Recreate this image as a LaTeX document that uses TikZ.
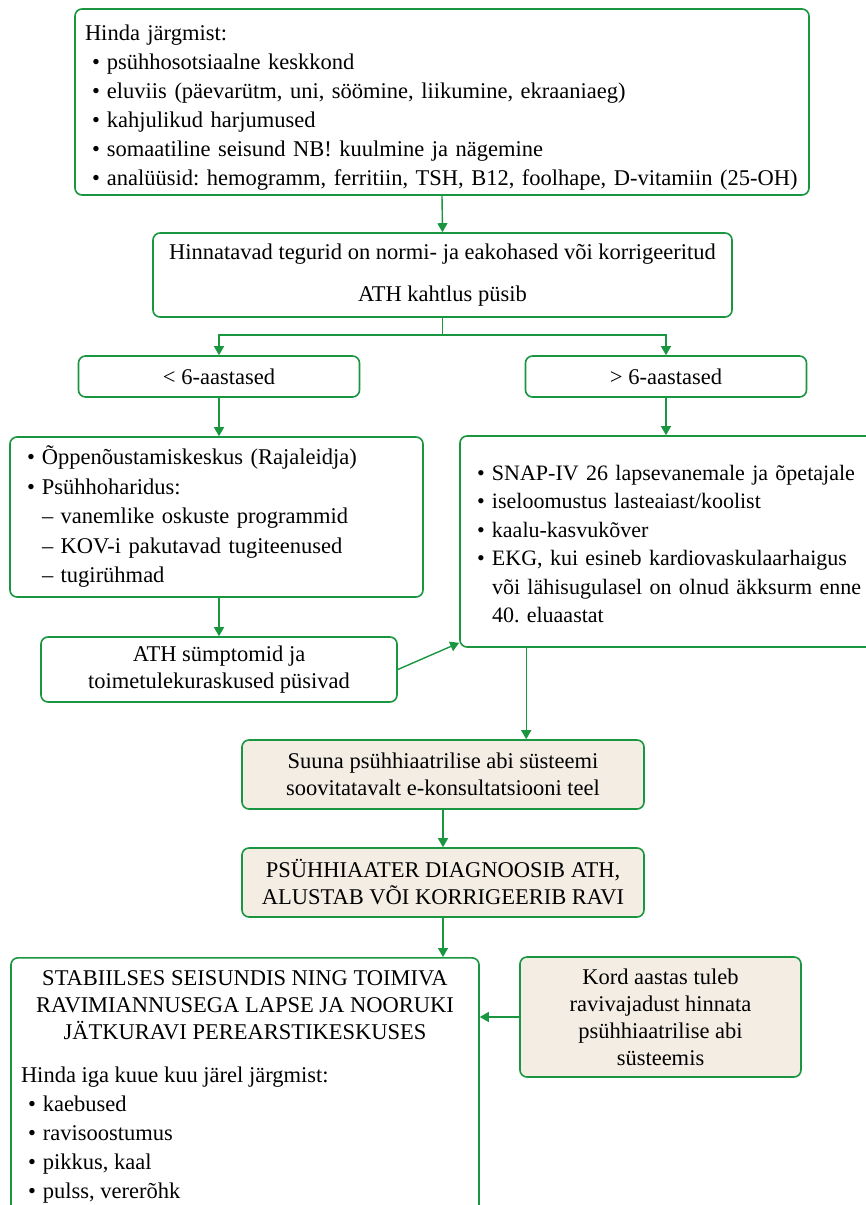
\documentclass[tikz,border=0pt]{standalone}
\usepackage{fontspec}
\setmainfont{Liberation Serif}
\usetikzlibrary{arrows.meta}
\definecolor{flowgreen}{RGB}{26,150,65}
\definecolor{flowtan}{RGB}{243,237,228}
\newcommand{\bulpt}{\makebox[22pt][c]{\textbullet}}
\newcommand{\rowleft}[1]{\makebox[448pt][l]{#1}}
\frenchspacing
\hyphenpenalty=10000
\begin{document}
\begin{tikzpicture}[x=1pt, y=-1pt,
    box/.style={draw=flowgreen, line width=1.6pt, rounded corners=7pt, fill=white,
        inner xsep=10pt, inner ysep=4pt, align=center,
        font=\fontsize{22.5}{27}\selectfont},
    tanbox/.style={box, fill=flowtan},
    listbox/.style={box, align=left, font=\fontsize{22.5}{29}\selectfont},
    flow/.style={draw=flowgreen, line width=1.4pt, -{Triangle[length=9pt, width=10pt]}}]
    \useasboundingbox (0,0) rectangle (866,1205);
    \clip (0,0) rectangle (866,1205);
    \node[listbox, text width=714pt, minimum height=186pt] (hinda) at (442,102) {
        \rule{0pt}{27pt}Hinda järgmist:\\
        \bulpt psühhosotsiaalne keskkond\\
        \bulpt eluviis (päevarütm, uni, söömine, liikumine, ekraaniaeg)\\
        \bulpt kahjulikud harjumused\\
        \bulpt somaatiline seisund NB! kuulmine ja nägemine\\
        \bulpt analüüsid: hemogramm, ferritiin, TSH, B12, foolhape, D-vitamiin (25-OH)};
    \node[box, minimum width=579pt, minimum height=84pt] (tegurid) at (442.5,275) {
        Hinnatavad tegurid on normi- ja eakohased või korrigeeritud\\[15pt]
        ATH kahtlus püsib};
    \node[box, minimum width=281pt, minimum height=41pt] (noorem) at (219,376.5) {< 6-aastased};
    \node[box, minimum width=281pt, minimum height=41pt] (vanem) at (666,376.5) {> 6-aastased};
    \node[listbox, text width=393pt, minimum height=160pt,
        font=\fontsize{22.5}{29.5}\selectfont] (noustamine) at (216.5,517) {
        \bulpt Õppenõustamiskeskus (Rajaleidja)\\
        \bulpt Psühhoharidus:\\
        \hspace*{22pt}– vanemlike oskuste programmid\\
        \hspace*{22pt}– KOV-i pakutavad tugiteenused\\
        \hspace*{22pt}– tugirühmad};
    \node[listbox, text width=402pt, minimum height=211pt,
        font=\fontsize{22}{28.5}\selectfont] (uuringud) at (671,541.5) {
        \rule{0pt}{20pt}\bulpt SNAP-IV 26 lapsevanemale ja õpetajale\\
        \bulpt iseloomustus lasteaiast/koolist\\
        \bulpt kaalu-kasvukõver\\
        \bulpt EKG, kui esineb kardiovaskulaarhaigus\\
        \hspace*{22pt}või lähisugulasel on olnud äkksurm enne\\
        \hspace*{22pt}40. eluaastat};
    \node[box, minimum width=356pt, minimum height=65pt] (pusivad) at (219,669.5) {
        ATH sümptomid ja\\toimetulekuraskused püsivad};
    \node[tanbox, minimum width=402pt, minimum height=69pt] (suuna) at (443,774.5) {
        Suuna psühhiaatrilise abi süsteemi\\soovitatavalt e-konsultatsiooni teel};
    \node[tanbox, minimum width=402pt, minimum height=69pt] (diagnoos) at (443,882.5) {
        PSÜHHIAATER DIAGNOOSIB ATH,\\ALUSTAB VÕI KORRIGEERIB RAVI};
    \node[box, anchor=north, minimum width=468pt, inner ysep=13pt] (jatkuravi) at (245,957) {
        STABIILSES SEISUNDIS NING TOIMIVA\\
        RAVIMIANNUSEGA LAPSE JA NOORUKI\\
        JÄTKURAVI PEREARSTIKESKUSES\\[16pt]
        \rowleft{Hinda iga kuue kuu järel järgmist:}\\[2pt]
        \rowleft{\bulpt kaebused}\\[2pt]
        \rowleft{\bulpt ravisoostumus}\\[2pt]
        \rowleft{\bulpt pikkus, kaal}\\[2pt]
        \rowleft{\bulpt pulss, vererõhk}};
    \node[tanbox, minimum width=281pt, minimum height=120pt] (kord) at (660.5,1017) {
        Kord aastas tuleb\\ravivajadust hinnata\\psühhiaatrilise abi\\süsteemis};
    \draw[flow] (hinda.south) -- (tegurid.north);
    \draw[flow] (tegurid.south) -- ++(0,17) -| (noorem.north);
    \draw[flow] (tegurid.south) -- ++(0,17) -| (vanem.north);
    \draw[flow] (noorem.south) -- (noorem.south |- noustamine.north);
    \draw[flow] (vanem.south) -- (vanem.south |- uuringud.north);
    \draw[flow] (pusivad.north |- noustamine.south) -- (pusivad.north);
    \draw[flow] (pusivad.east) -- ([yshift=5pt]uuringud.south west);
    \draw[flow] ([xshift=67pt]uuringud.south west) -- ([xshift=67pt]uuringud.south west |- suuna.north);
    \draw[flow] (suuna.south) -- (diagnoos.north);
    \draw[flow] (diagnoos.south) -- (diagnoos.south |- jatkuravi.north);
    \draw[flow] (kord.west) -- (kord.west -| jatkuravi.east);
\end{tikzpicture}
\end{document}
